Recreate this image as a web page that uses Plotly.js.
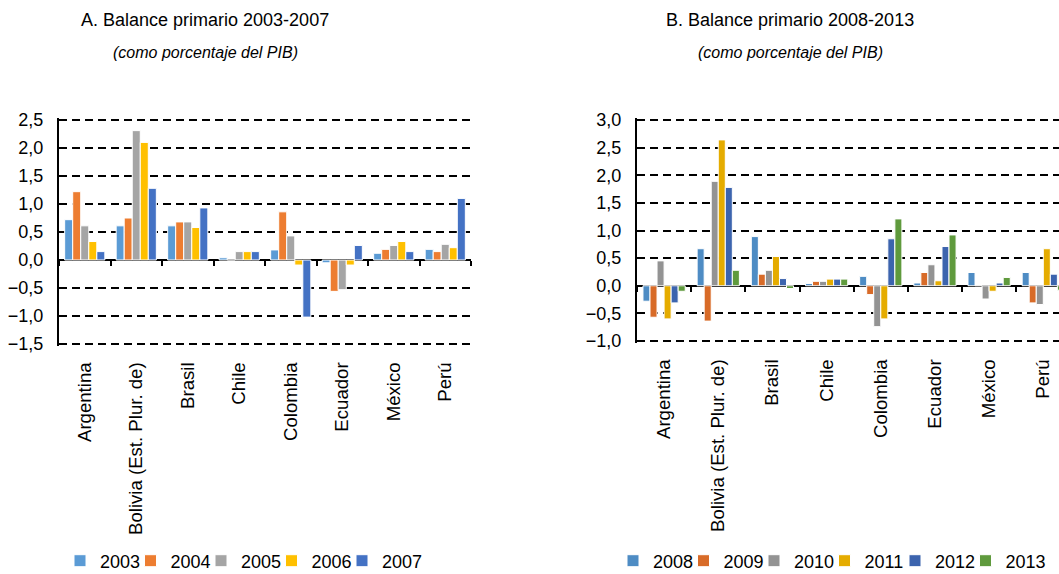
<!DOCTYPE html>
<html>
<head>
<meta charset="utf-8">
<script src="https://cdn.plot.ly/plotly-3.0.1.min.js"></script>
<style>
  html, body { margin: 0; padding: 0; background: #fff; }
  #chart { width: 1059px; height: 574px; }
</style>
</head>
<body>
<div id="chart"></div>
<script>
// ---- Data ----
const countries = ['Argentina', 'Bolivia (Est. Plur. de)', 'Brasil', 'Chile', 'Colombia', 'Ecuador', 'México', 'Perú'];

// Panel A: 2003-2007
const yearsA = ['2003', '2004', '2005', '2006', '2007'];
const a2003 = [0.72, 0.61, 0.61, 0.04, 0.18, -0.05, 0.12, 0.19];
const a2004 = [1.22, 0.75, 0.68, 0.00, 0.86, -0.56, 0.19, 0.15];
const a2005 = [0.61, 2.31, 0.68, 0.15, 0.43, -0.53, 0.26, 0.28];
const a2006 = [0.33, 2.10, 0.58, 0.15, -0.09, -0.09, 0.33, 0.22];
const a2007 = [0.15, 1.28, 0.93, 0.15, -1.02, 0.26, 0.15, 1.10];
const colorsA = ['#5B9BD5', '#ED7D31', '#A5A5A5', '#FFC000', '#4472C4'];

// Panel B: 2008-2013
const yearsB = ['2008', '2009', '2010', '2011', '2012', '2013'];
const b2008 = [-0.28, 0.67, 0.89, 0.04, 0.17, 0.05, 0.24, 0.24];
const b2009 = [-0.57, -0.64, 0.21, 0.08, -0.16, 0.24, 0.00, -0.31];
const b2010 = [0.45, 1.89, 0.28, 0.08, -0.74, 0.38, -0.24, -0.34];
const b2011 = [-0.60, 2.64, 0.53, 0.12, -0.60, 0.09, -0.10, 0.67];
const b2012 = [-0.31, 1.78, 0.13, 0.12, 0.85, 0.71, 0.05, 0.21];
const b2013 = [-0.10, 0.28, -0.05, 0.12, 1.21, 0.92, 0.15, -0.08];
const colorsB = ['#4E8CC4', '#D86B28', '#939393', '#E5AC00', '#3C64AE', '#5F9A3D'];

const titleA = 'A. Balance primario 2003-2007';
const titleB = 'B. Balance primario 2008-2013';
const subtitle = '(como porcentaje del PIB)';

// ---- Layout geometry (pixels in a 1059x574 page) ----
const W = 1059, H = 574;
const FONT = 'Liberation Sans, Arial, sans-serif';
const px = v => v / W;
const py = v => 1 - v / H;

const PAD = 0.03;
const aRange = [-1.5 - PAD, 2.5 + PAD];
const bRange = [-1.0 - PAD, 3.0 + PAD];
const aDomY = [py(344 + PAD * 56), py(120 - PAD * 56)];
const bDomY = [py(341 + PAD * 55.25), py(120 - PAD * 55.25)];
const zeroPos = (dom, r) => dom[0] + (0 - r[0]) / (r[1] - r[0]) * (dom[1] - dom[0]);

const seriesA = [a2003, a2004, a2005, a2006, a2007];
const seriesB = [b2008, b2009, b2010, b2011, b2012, b2013];

// one single-entry legend per year, laid out in a row under each panel
const legendId = k => (k === 0 ? 'legend' : 'legend' + (k + 1));
const legendStartA = 60, legendStartB = 613, legendStep = 70.5, legendY = 561;

const traces = [];
const legends = {};
seriesA.forEach((vals, i) => {
  const lid = legendId(i);
  legends[lid] = { x: px(legendStartA + i * legendStep) };
  traces.push({
    type: 'bar', name: yearsA[i], x: countries, y: vals,
    xaxis: 'x', yaxis: 'y', legend: lid,
    marker: { color: colorsA[i], line: { color: '#ffffff', width: 1 } },
    hovertemplate: '%{x}<br>' + yearsA[i] + ': %{y:.2f}<extra></extra>'
  });
});
seriesB.forEach((vals, i) => {
  const lid = legendId(seriesA.length + i);
  legends[lid] = { x: px(legendStartB + i * legendStep) };
  traces.push({
    type: 'bar', name: yearsB[i], x: countries, y: vals,
    xaxis: 'x2', yaxis: 'y2', legend: lid,
    marker: { color: colorsB[i], line: { color: '#ffffff', width: 1 } },
    hovertemplate: '%{x}<br>' + yearsB[i] + ': %{y:.2f}<extra></extra>'
  });
});
// invisible helpers so the zero-line tick axes exist
traces.push({ type: 'scatter', mode: 'markers', x: countries, y: countries.map(() => null),
  xaxis: 'x3', yaxis: 'y', showlegend: false, hoverinfo: 'skip' });
traces.push({ type: 'scatter', mode: 'markers', x: countries, y: countries.map(() => null),
  xaxis: 'x4', yaxis: 'y2', showlegend: false, hoverinfo: 'skip' });

const yAxisCommon = {
  showgrid: true, gridcolor: '#000', gridwidth: 2, griddash: '8px,5px',
  zeroline: true, zerolinecolor: '#000', zerolinewidth: 2,
  showline: true, linecolor: '#000', linewidth: 2,
  ticks: '', tickformat: '.1f', tick0: 0, dtick: 0.5,
  tickfont: { family: FONT, size: 18, color: '#000' },
  ticklabelstandoff: 10, fixedrange: true
};
const xLabelCommon = {
  type: 'category', categoryorder: 'array', categoryarray: countries,
  showgrid: false, zeroline: false, showline: false, ticks: '',
  tickangle: -90, tickfont: { family: FONT, size: 18.6, color: '#000' },
  ticklabelstandoff: 12, fixedrange: true
};
const xTickCommon = {
  type: 'category', categoryorder: 'array', categoryarray: countries,
  showgrid: false, zeroline: false, showline: false, showticklabels: false,
  ticks: 'outside', tickson: 'boundaries', ticklen: 5, tickwidth: 2, tickcolor: '#000',
  anchor: 'free', fixedrange: true
};

const layout = {
  width: W, height: H,
  margin: { l: 0, r: 0, t: 0, b: 0, autoexpand: false },
  paper_bgcolor: '#fff', plot_bgcolor: 'rgba(0,0,0,0)',
  separators: ',.',
  barmode: 'group', bargap: 0.22, bargroupgap: 0,
  font: { family: FONT, color: '#000' },
  showlegend: true,
  xaxis: Object.assign({}, xLabelCommon, { domain: [px(59), px(471)], anchor: 'y', range: [-0.5, 7.5] }),
  yaxis: Object.assign({}, yAxisCommon, { domain: aDomY, anchor: 'x', range: aRange }),
  xaxis2: Object.assign({}, xLabelCommon, { domain: [px(637), 1], anchor: 'y2', range: [-0.5, 7.29] }),
  yaxis2: Object.assign({}, yAxisCommon, { domain: bDomY, anchor: 'x2', range: bRange }),
  xaxis3: Object.assign({}, xTickCommon, { overlaying: 'x', range: [-0.5, 7.5], position: zeroPos(aDomY, aRange) }),
  xaxis4: Object.assign({}, xTickCommon, { overlaying: 'x2', range: [-0.5, 7.29], position: zeroPos(bDomY, bRange) }),
  annotations: [
    { text: titleA, xref: 'paper', yref: 'paper', x: px(205), y: py(20), xanchor: 'center', yanchor: 'middle',
      showarrow: false, font: { family: FONT, size: 18, color: '#000' } },
    { text: '<i>' + subtitle + '</i>', xref: 'paper', yref: 'paper', x: px(205), y: py(52), xanchor: 'center', yanchor: 'middle',
      showarrow: false, font: { family: FONT, size: 16, color: '#000' } },
    { text: titleB, xref: 'paper', yref: 'paper', x: px(790), y: py(20), xanchor: 'center', yanchor: 'middle',
      showarrow: false, font: { family: FONT, size: 18, color: '#000' } },
    { text: '<i>' + subtitle + '</i>', xref: 'paper', yref: 'paper', x: px(790), y: py(52), xanchor: 'center', yanchor: 'middle',
      showarrow: false, font: { family: FONT, size: 16, color: '#000' } }
  ]
};
Object.keys(legends).forEach(lid => {
  layout[lid] = {
    orientation: 'h', x: legends[lid].x, xanchor: 'left', y: py(legendY), yanchor: 'middle',
    font: { family: FONT, size: 18, color: '#000' }, bgcolor: 'rgba(0,0,0,0)', borderwidth: 0,
    itemclick: false, itemdoubleclick: false
  };
});

Plotly.newPlot('chart', traces, layout, { displayModeBar: false, responsive: false });
</script>
</body>
</html>
